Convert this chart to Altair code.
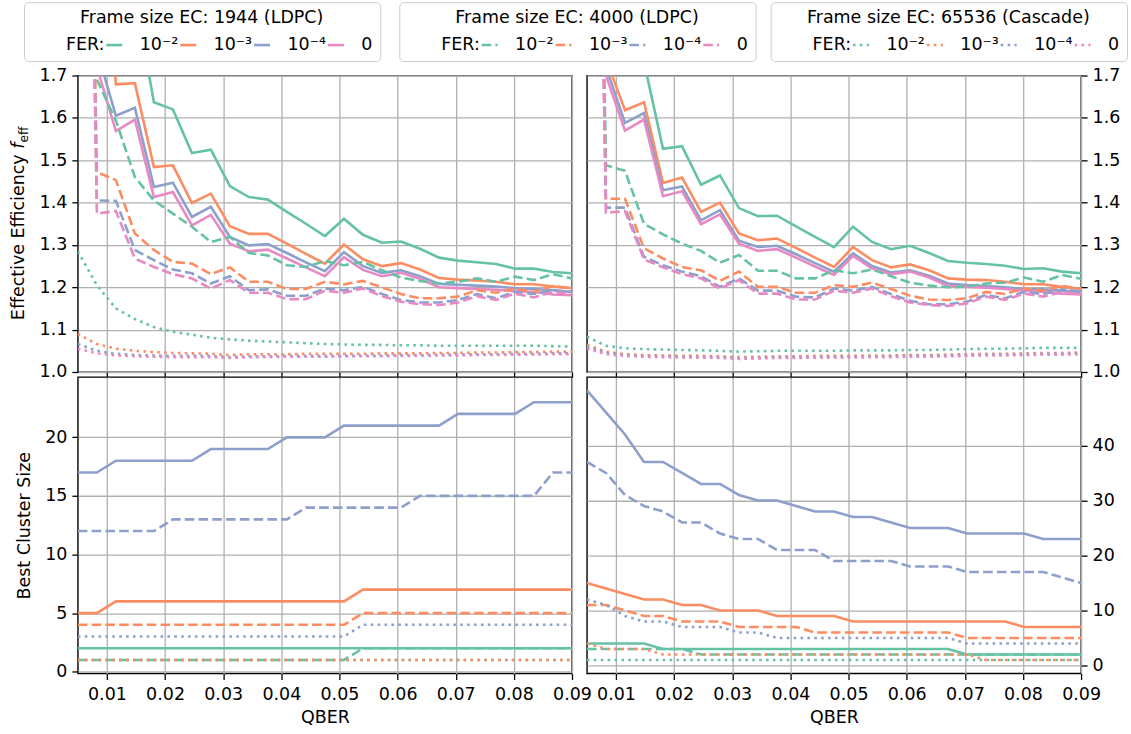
import altair as alt
import pandas as pd

QBER = [0.005, 0.00827, 0.01154, 0.01481, 0.01808, 0.02135, 0.02462, 0.02788, 0.03115,
        0.03442, 0.03769, 0.04096, 0.04423, 0.0475, 0.05077, 0.05404, 0.05731, 0.06058,
        0.06385, 0.06712, 0.07038, 0.07365, 0.07692, 0.08019, 0.08346, 0.08673, 0.09]

FER_LABELS = ["FER:", "10⁻²", "10⁻³", "10⁻⁴", "0"]
FER_COLORS = ["transparent", "#66c2a5", "#fc8d62", "#8da0cb", "#e78ac3"]
FRAMES = ["1944", "4000", "65536"]
FRAME_TITLES = ["Frame size EC: 1944 (LDPC)", "Frame size EC: 4000 (LDPC)",
                "Frame size EC: 65536 (Cascade)"]
X_TICKS = [0.01, 0.02, 0.03, 0.04, 0.05, 0.06, 0.07, 0.08, 0.09]

# ---------- Effective efficiency, left panel ----------
eff_l_1944_e2 = [3.0, 2.4, 2.0, 1.89, 1.637, 1.620, 1.517, 1.525, 1.439, 1.413, 1.407, 1.378, 1.350, 1.321, 1.362, 1.324, 1.305, 1.308, 1.291, 1.270, 1.263, 1.259, 1.255, 1.244, 1.244, 1.236, 1.233]
eff_l_1944_e3 = [3.0, 2.3, 1.679, 1.682, 1.484, 1.488, 1.399, 1.421, 1.344, 1.326, 1.326, 1.303, 1.279, 1.256, 1.301, 1.266, 1.250, 1.257, 1.242, 1.222, 1.218, 1.216, 1.213, 1.207, 1.207, 1.202, 1.198]
eff_l_1944_e4 = [2.8, 1.76, 1.605, 1.624, 1.437, 1.447, 1.366, 1.390, 1.319, 1.299, 1.302, 1.281, 1.259, 1.238, 1.283, 1.250, 1.234, 1.240, 1.226, 1.208, 1.206, 1.204, 1.202, 1.198, 1.196, 1.193, 1.189]
eff_l_1944_0 = [2.8, 1.72, 1.569, 1.596, 1.413, 1.425, 1.346, 1.371, 1.303, 1.285, 1.289, 1.268, 1.247, 1.226, 1.271, 1.241, 1.226, 1.234, 1.220, 1.200, 1.198, 1.196, 1.194, 1.191, 1.189, 1.183, 1.181]
eff_l_4000_e2 = [2.6, 1.69, 1.594, 1.460, 1.405, 1.374, 1.343, 1.307, 1.319, 1.281, 1.275, 1.252, 1.248, 1.262, 1.252, 1.260, 1.240, 1.223, 1.215, 1.209, 1.213, 1.221, 1.213, 1.225, 1.217, 1.231, 1.221]
eff_l_4000_e3 = [4.0, 1.472, 1.453, 1.327, 1.288, 1.260, 1.256, 1.231, 1.247, 1.213, 1.213, 1.196, 1.196, 1.213, 1.207, 1.215, 1.200, 1.184, 1.174, 1.174, 1.178, 1.193, 1.187, 1.197, 1.189, 1.203, 1.197]
eff_l_4000_e4 = [4.0, 1.405, 1.404, 1.288, 1.264, 1.242, 1.233, 1.209, 1.226, 1.193, 1.195, 1.180, 1.180, 1.197, 1.193, 1.201, 1.184, 1.170, 1.164, 1.164, 1.170, 1.184, 1.174, 1.189, 1.184, 1.193, 1.189]
eff_l_4000_0 = [4.0, 1.374, 1.380, 1.268, 1.248, 1.231, 1.221, 1.197, 1.217, 1.187, 1.187, 1.172, 1.172, 1.192, 1.187, 1.197, 1.179, 1.166, 1.160, 1.158, 1.164, 1.179, 1.170, 1.185, 1.176, 1.189, 1.185]
eff_l_65536_e2 = [1.285, 1.205, 1.150, 1.125, 1.106, 1.095, 1.088, 1.081, 1.077, 1.074, 1.072, 1.070, 1.068, 1.066, 1.065, 1.064, 1.064, 1.063, 1.063, 1.062, 1.062, 1.062, 1.062, 1.062, 1.062, 1.061, 1.060]
eff_l_65536_e3 = [1.090, 1.066, 1.055, 1.050, 1.047, 1.045, 1.044, 1.043, 1.040, 1.042, 1.042, 1.042, 1.043, 1.043, 1.043, 1.043, 1.044, 1.044, 1.044, 1.045, 1.045, 1.046, 1.046, 1.047, 1.047, 1.048, 1.048]
eff_l_65536_e4 = [1.066, 1.050, 1.043, 1.040, 1.039, 1.038, 1.038, 1.038, 1.035, 1.037, 1.037, 1.038, 1.038, 1.038, 1.038, 1.039, 1.039, 1.040, 1.040, 1.041, 1.041, 1.042, 1.042, 1.043, 1.043, 1.044, 1.044]
eff_l_65536_0 = [1.055, 1.044, 1.039, 1.037, 1.036, 1.035, 1.035, 1.035, 1.033, 1.035, 1.035, 1.036, 1.036, 1.036, 1.037, 1.037, 1.037, 1.038, 1.038, 1.039, 1.039, 1.040, 1.040, 1.041, 1.041, 1.042, 1.042]

# ---------- Effective efficiency, right panel ----------
eff_r_1944_e2 = [3.0, 2.3, 2.0, 1.732, 1.527, 1.533, 1.442, 1.464, 1.387, 1.368, 1.369, 1.344, 1.319, 1.295, 1.343, 1.307, 1.290, 1.298, 1.281, 1.262, 1.258, 1.255, 1.251, 1.243, 1.245, 1.237, 1.233]
eff_r_1944_e3 = [2.6, 1.739, 1.618, 1.637, 1.446, 1.459, 1.378, 1.400, 1.327, 1.311, 1.315, 1.293, 1.270, 1.248, 1.295, 1.264, 1.247, 1.254, 1.240, 1.221, 1.218, 1.217, 1.213, 1.207, 1.207, 1.201, 1.196]
eff_r_1944_e4 = [2.5, 1.72, 1.588, 1.611, 1.429, 1.438, 1.358, 1.382, 1.310, 1.295, 1.298, 1.278, 1.257, 1.237, 1.280, 1.250, 1.235, 1.240, 1.227, 1.209, 1.205, 1.203, 1.200, 1.196, 1.195, 1.192, 1.189]
eff_r_1944_0 = [2.5, 1.70, 1.570, 1.596, 1.415, 1.427, 1.349, 1.372, 1.303, 1.286, 1.290, 1.270, 1.249, 1.229, 1.274, 1.244, 1.231, 1.237, 1.223, 1.203, 1.201, 1.199, 1.196, 1.192, 1.189, 1.185, 1.183]
eff_r_4000_e2 = [4.0, 1.488, 1.475, 1.350, 1.325, 1.303, 1.286, 1.258, 1.276, 1.239, 1.239, 1.221, 1.221, 1.240, 1.233, 1.242, 1.226, 1.211, 1.204, 1.200, 1.201, 1.209, 1.211, 1.223, 1.213, 1.229, 1.220]
eff_r_4000_e3 = [4.0, 1.409, 1.409, 1.292, 1.268, 1.248, 1.240, 1.215, 1.237, 1.201, 1.201, 1.187, 1.187, 1.205, 1.201, 1.211, 1.196, 1.180, 1.171, 1.170, 1.174, 1.189, 1.184, 1.197, 1.192, 1.203, 1.196]
eff_r_4000_e4 = [4.0, 1.388, 1.388, 1.272, 1.252, 1.237, 1.226, 1.201, 1.221, 1.192, 1.192, 1.178, 1.176, 1.197, 1.192, 1.201, 1.184, 1.168, 1.160, 1.160, 1.166, 1.182, 1.174, 1.189, 1.184, 1.195, 1.190]
eff_r_4000_0 = [4.0, 1.376, 1.380, 1.266, 1.247, 1.231, 1.221, 1.197, 1.217, 1.185, 1.185, 1.171, 1.171, 1.192, 1.187, 1.197, 1.179, 1.164, 1.158, 1.156, 1.162, 1.178, 1.170, 1.185, 1.178, 1.189, 1.184]
eff_r_65536_e2 = [1.083, 1.062, 1.056, 1.054, 1.053, 1.052, 1.051, 1.050, 1.048, 1.049, 1.050, 1.050, 1.050, 1.050, 1.051, 1.051, 1.051, 1.052, 1.052, 1.053, 1.054, 1.055, 1.055, 1.056, 1.057, 1.057, 1.057]
eff_r_65536_e3 = [1.064, 1.048, 1.042, 1.040, 1.039, 1.038, 1.038, 1.037, 1.035, 1.036, 1.037, 1.037, 1.038, 1.038, 1.038, 1.039, 1.039, 1.040, 1.040, 1.041, 1.042, 1.043, 1.043, 1.044, 1.045, 1.045, 1.046]
eff_r_65536_e4 = [1.060, 1.045, 1.040, 1.038, 1.037, 1.036, 1.036, 1.035, 1.033, 1.034, 1.035, 1.035, 1.036, 1.036, 1.036, 1.037, 1.037, 1.038, 1.038, 1.039, 1.040, 1.041, 1.041, 1.042, 1.043, 1.043, 1.044]
eff_r_65536_0 = [1.055, 1.042, 1.038, 1.036, 1.035, 1.034, 1.034, 1.033, 1.031, 1.032, 1.033, 1.033, 1.034, 1.034, 1.034, 1.035, 1.035, 1.036, 1.036, 1.037, 1.038, 1.039, 1.039, 1.040, 1.041, 1.041, 1.042]

# ---------- Best cluster size, left panel ----------
cs_l_1944_e2 = [2, 2, 2, 2, 2, 2, 2, 2, 2, 2, 2, 2, 2, 2, 2, 2, 2, 2, 2, 2, 2, 2, 2, 2, 2, 2, 2]
cs_l_1944_e3 = [5, 5, 6, 6, 6, 6, 6, 6, 6, 6, 6, 6, 6, 6, 6, 7, 7, 7, 7, 7, 7, 7, 7, 7, 7, 7, 7]
cs_l_1944_e4 = [17, 17, 18, 18, 18, 18, 18, 19, 19, 19, 19, 20, 20, 20, 21, 21, 21, 21, 21, 21, 22, 22, 22, 22, 23, 23, 23]
cs_l_4000_e2 = [1, 1, 1, 1, 1, 1, 1, 1, 1, 1, 1, 1, 1, 1, 1, 2, 2, 2, 2, 2, 2, 2, 2, 2, 2, 2, 2]
cs_l_4000_e3 = [4, 4, 4, 4, 4, 4, 4, 4, 4, 4, 4, 4, 4, 4, 4, 5, 5, 5, 5, 5, 5, 5, 5, 5, 5, 5, 5]
cs_l_4000_e4 = [12, 12, 12, 12, 12, 13, 13, 13, 13, 13, 13, 13, 14, 14, 14, 14, 14, 14, 15, 15, 15, 15, 15, 15, 15, 17, 17]
cs_l_65536_e2 = [1, 1, 1, 1, 1, 1, 1, 1, 1, 1, 1, 1, 1, 1, 1, 1, 1, 1, 1, 1, 1, 1, 1, 1, 1, 1, 1]
cs_l_65536_e3 = [1, 1, 1, 1, 1, 1, 1, 1, 1, 1, 1, 1, 1, 1, 1, 1, 1, 1, 1, 1, 1, 1, 1, 1, 1, 1, 1]
cs_l_65536_e4 = [3, 3, 3, 3, 3, 3, 3, 3, 3, 3, 3, 3, 3, 3, 3, 4, 4, 4, 4, 4, 4, 4, 4, 4, 4, 4, 4]

# ---------- Best cluster size, right panel ----------
cs_r_1944_e2 = [4, 4, 4, 4, 3, 3, 3, 3, 3, 3, 3, 3, 3, 3, 3, 3, 3, 3, 3, 3, 2, 2, 2, 2, 2, 2, 2]
cs_r_1944_e3 = [15, 14, 13, 12, 12, 11, 11, 10, 10, 10, 9, 9, 9, 9, 8, 8, 8, 8, 8, 8, 8, 8, 8, 7, 7, 7, 7]
cs_r_1944_e4 = [50, 46, 42, 37, 37, 35, 33, 33, 31, 30, 30, 29, 28, 28, 27, 27, 26, 25, 25, 25, 24, 24, 24, 24, 23, 23, 23]
cs_r_4000_e2 = [3, 3, 3, 3, 3, 3, 2, 2, 2, 2, 2, 2, 2, 2, 2, 2, 2, 2, 2, 2, 2, 2, 2, 2, 2, 2, 2]
cs_r_4000_e3 = [11, 11, 10, 9, 9, 8, 8, 8, 7, 7, 7, 7, 6, 6, 6, 6, 6, 6, 6, 6, 5, 5, 5, 5, 5, 5, 5]
cs_r_4000_e4 = [37, 35, 31, 29, 28, 26, 26, 24, 23, 23, 21, 21, 21, 19, 19, 19, 19, 18, 18, 18, 17, 17, 17, 17, 17, 16, 15]
cs_r_65536_e2 = [1, 1, 1, 1, 1, 1, 1, 1, 1, 1, 1, 1, 1, 1, 1, 1, 1, 1, 1, 1, 1, 1, 1, 1, 1, 1, 1]
cs_r_65536_e3 = [4, 3, 3, 3, 2, 2, 2, 2, 2, 2, 2, 2, 2, 2, 2, 2, 2, 2, 2, 2, 2, 1, 1, 1, 1, 1, 1]
cs_r_65536_e4 = [12, 11, 9, 8, 8, 7, 7, 7, 6, 6, 5, 5, 5, 5, 5, 5, 5, 5, 5, 5, 4, 4, 4, 4, 4, 4, 4]

PANELS = {
    "eff_l": {"1944": [eff_l_1944_e2, eff_l_1944_e3, eff_l_1944_e4, eff_l_1944_0],
              "4000": [eff_l_4000_e2, eff_l_4000_e3, eff_l_4000_e4, eff_l_4000_0],
              "65536": [eff_l_65536_e2, eff_l_65536_e3, eff_l_65536_e4, eff_l_65536_0]},
    "eff_r": {"1944": [eff_r_1944_e2, eff_r_1944_e3, eff_r_1944_e4, eff_r_1944_0],
              "4000": [eff_r_4000_e2, eff_r_4000_e3, eff_r_4000_e4, eff_r_4000_0],
              "65536": [eff_r_65536_e2, eff_r_65536_e3, eff_r_65536_e4, eff_r_65536_0]},
    "cs_l": {"1944": [cs_l_1944_e2, cs_l_1944_e3, cs_l_1944_e4],
             "4000": [cs_l_4000_e2, cs_l_4000_e3, cs_l_4000_e4],
             "65536": [cs_l_65536_e2, cs_l_65536_e3, cs_l_65536_e4]},
    "cs_r": {"1944": [cs_r_1944_e2, cs_r_1944_e3, cs_r_1944_e4],
             "4000": [cs_r_4000_e2, cs_r_4000_e3, cs_r_4000_e4],
             "65536": [cs_r_65536_e2, cs_r_65536_e3, cs_r_65536_e4]},
}


def frame_df(panel, frame):
    rows = []
    for fer, vals in zip(FER_LABELS[1:], PANELS[panel][frame]):
        for q, v in zip(QBER, vals):
            rows.append({"qber": q, "value": v, "fer": fer})
    return pd.DataFrame(rows)


W, H = 495, 297
FONT = "DejaVu Sans"
FS = 17.5
LW = 2.6
DASHES = {"1944": None, "4000": [9.6, 4.2], "65536": [2.6, 4.3]}
LEGEND_X = {"1944": -54, "4000": 322, "65536": 694}
LEGEND_COLPAD = {"1944": -9.5, "4000": -6, "65536": -7.75}
LEGEND_Y = -73.5


def x_enc(show_labels):
    return alt.X("qber:Q",
                 scale=alt.Scale(domain=[0.005, 0.09], nice=False, zero=False),
                 axis=alt.Axis(values=X_TICKS, format=".2f", labels=show_labels,
                               labelPadding=6, labelFlush=False, labelOverlap=False,
                               title="QBER" if show_labels else None, titlePadding=6))


def panel(name, ydomain, yticks, yfmt, orient, ytitle, show_x, with_legend):
    layers = []
    for i, frame in enumerate(FRAMES):
        mark_kw = dict(clip=True, strokeWidth=LW)
        if DASHES[frame] is not None:
            mark_kw["strokeDash"] = DASHES[frame]
        if with_legend:
            leg_kw = dict(title=FRAME_TITLES[i], orient="none",
                          legendX=LEGEND_X[frame], legendY=LEGEND_Y,
                          direction="horizontal", symbolType="stroke",
                          symbolStrokeWidth=LW, symbolSize=256,
                          titleAnchor="middle", titleFont=FONT, titleFontSize=FS,
                          titleFontWeight="normal", titleColor="black", titlePadding=9,
                          titleLimit=600, labelLimit=200,
                          labelFont=FONT, labelFontSize=FS, labelColor="black",
                          labelOffset=16, columnPadding=LEGEND_COLPAD[frame], padding=7,
                          strokeColor="#cccccc", fillColor="white", cornerRadius=4)
            if DASHES[frame] is not None:
                leg_kw["symbolDash"] = DASHES[frame]
            legend = alt.Legend(**leg_kw)
        else:
            legend = None
        axis_kw = dict(values=yticks, format=yfmt, orient=orient, labelPadding=5,
                       labelFlush=False, labelOverlap=False)
        if ytitle:
            axis_kw["title"] = ytitle
            axis_kw["titlePadding"] = 11
        else:
            axis_kw["title"] = None
        layers.append(
            alt.Chart(frame_df(name, frame)).mark_line(**mark_kw).encode(
                x=x_enc(show_x),
                y=alt.Y("value:Q",
                        scale=alt.Scale(domain=ydomain, nice=False, zero=False),
                        axis=alt.Axis(**axis_kw)),
                color=alt.Color("fer:N",
                                scale=alt.Scale(domain=FER_LABELS, range=FER_COLORS),
                                legend=legend),
            )
        )
    return layers


eff_ticks = [1.0, 1.1, 1.2, 1.3, 1.4, 1.5, 1.6, 1.7]

tl_layers = panel("eff_l", [1.0, 1.7], eff_ticks, ".1f", "left", None, False, True)

# y-axis title "Effective Efficiency f_eff" (italic f with subscript)
title_src = alt.Data(values=[{"k": 0}])
TY = 79
TX = -54
t_main = alt.Chart(title_src).mark_text(
    text="Effective Efficiency", angle=270, align="right", baseline="alphabetic",
    font=FONT, fontSize=FS, color="black").encode(x=alt.value(TX), y=alt.value(TY))
t_f = alt.Chart(title_src).mark_text(
    text="f", angle=270, align="left", baseline="alphabetic", fontStyle="italic",
    font=FONT, fontSize=FS, color="black").encode(x=alt.value(TX), y=alt.value(TY - 5.6))
t_sub = alt.Chart(title_src).mark_text(
    text="eff", angle=270, align="left", baseline="alphabetic",
    font=FONT, fontSize=12.25, color="black").encode(x=alt.value(TX + 4), y=alt.value(TY - 12))

top_left = alt.layer(*tl_layers, t_main, t_f, t_sub).resolve_scale(
    color="independent").properties(width=W, height=H)

top_right = alt.layer(*panel("eff_r", [1.0, 1.7], eff_ticks, ".1f", "right", None,
                             False, False)).properties(width=W, height=H)

bottom_left = alt.layer(*panel("cs_l", [-0.15, 25.15], [0, 5, 10, 15, 20], "d", "left",
                               "Best Cluster Size", True, False)).properties(width=W, height=H)

bottom_right = alt.layer(*panel("cs_r", [-1.45, 52.45], [0, 10, 20, 30, 40], "d", "right",
                                None, True, False)).properties(width=W, height=H)

chart = alt.concat(
    top_left, top_right, bottom_left, bottom_right,
    columns=2, spacing={"row": 5, "column": 15}, bounds="flush",
).resolve_scale(
    color="independent", x="independent", y="independent"
).properties(
    padding={"left": 9, "top": 0, "right": 2, "bottom": 2},
    background="white",
).configure_axis(
    labelFont=FONT, labelFontSize=FS, labelColor="black",
    titleFont=FONT, titleFontSize=FS, titleFontWeight="normal", titleColor="black",
    tickColor="black", tickSize=6, tickWidth=1.3,
    gridColor="#b0b0b0", gridWidth=1.3, domain=False,
).configure_view(
    stroke="black", strokeWidth=1.4,
)

chart.save("out.html", embed_options={"renderer": "svg", "actions": False})
